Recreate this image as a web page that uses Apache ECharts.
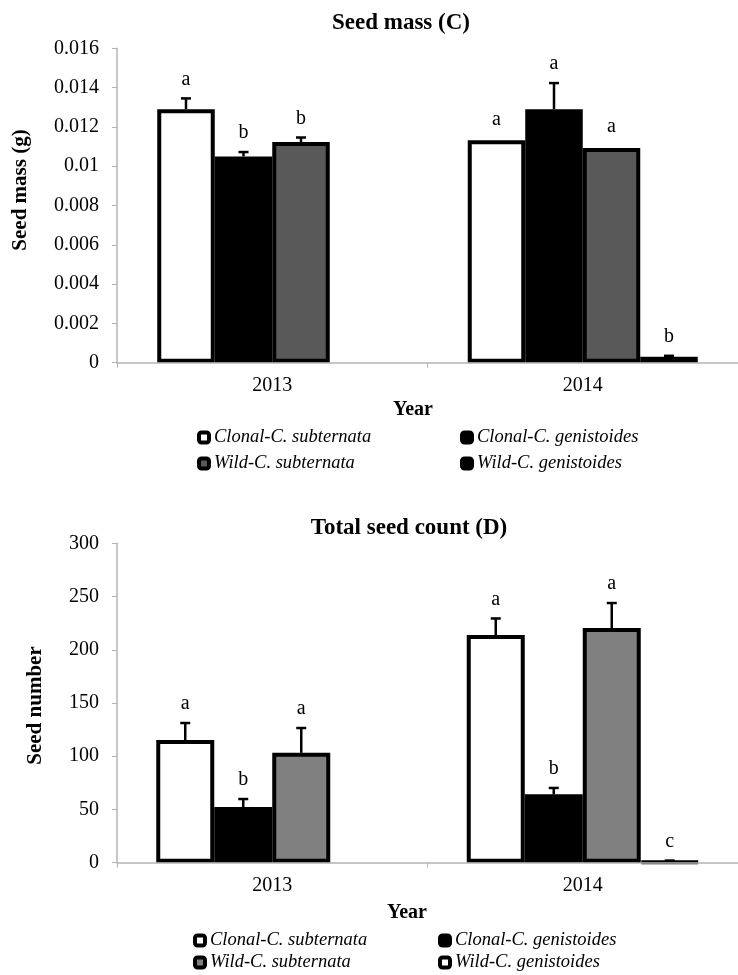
<!DOCTYPE html>
<html><head><meta charset="utf-8">
<script src="https://cdn.jsdelivr.net/npm/echarts@6/dist/echarts.min.js"></script>
<style>html,body{margin:0;padding:0;background:#fff}#c{width:738px;height:975px}</style>
</head><body><div id="c"></div>
<script>
// ---------- data ----------
const years = ['2013', '2014'];
const seriesNames = ['Clonal-C. subternata', 'Clonal-C. genistoides', 'Wild-C. subternata', 'Wild-C. genistoides'];

// Panel C: seed mass (g)
const massClonalSub = [0.0129, 0.01132];
const massClonalGen = [0.0105, 0.0129];
const massWildSub   = [0.01123, 0.01093];
const massWildGen   = [null, 0.0003];
const massErrClonalSub = [0.00055, 0];
const massErrClonalGen = [0.00022, 0.00133];
const massErrWildSub   = [0.00023, 0];
const massErrWildGen   = [null, 0.00005];
const massLetClonalSub = ['a', 'a'];
const massLetClonalGen = ['b', 'a'];
const massLetWildSub   = ['b', 'a'];
const massLetWildGen   = ['', 'b'];
const massAxisMax = 0.016, massAxisStep = 0.002;

// Panel D: total seed count
const countClonalSub = [115.2, 213.9];
const countClonalGen = [52.3, 64.2];
const countWildSub   = [103.2, 220.4];
const countWildGen   = [null, 1];
const countErrClonalSub = [16, 15.5];
const countErrClonalGen = [7.5, 6];
const countErrWildSub   = [23.3, 23.5];
const countErrWildGen   = [null, 1];
const countLetClonalSub = ['a', 'a'];
const countLetClonalGen = ['b', 'b'];
const countLetWildSub   = ['a', 'a'];
const countLetWildGen   = ['', 'c'];
const countAxisMax = 300, countAxisStep = 50;

// ---------- styles ----------
const FONT = "'Liberation Serif','Times New Roman',serif";
const AXIS_GREY = '#b4b4b4';
const fillsC = ['#ffffff', '#000000', '#595959', '#000000'];
const fillsD = ['#ffffff', '#000000', '#808080', '#ffffff'];

function panel(gi, values, errs, letters, fills, barW) {
  const out = [];
  values.forEach((vals, i) => {
    out.push({
      type: 'bar', name: seriesNames[i], xAxisIndex: gi, yAxisIndex: gi,
      data: vals, barWidth: barW, barGap: '0%', z: 2,
      itemStyle: { color: fills[i], borderColor: '#000', borderWidth: 4 },
      emphasis: { disabled: true }, animation: false
    });
  });
  const rows = [];
  values.forEach((vals, i) => vals.forEach((v, j) => {
    if (v !== null) rows.push([j, v, errs[i][j], i]);
  }));
  out.push({
    type: 'custom', xAxisIndex: gi, yAxisIndex: gi, z: 4, clip: false,
    encode: { x: 0, y: 1 }, data: rows, animation: false, silent: true,
    renderItem: function (params, api) {
      const j = api.value(0), v = api.value(1), e = api.value(2), i = api.value(3);
      const c = api.coord([j, 0]);
      const x = c[0] + (i - 1.5) * barW;
      const yV = api.coord([j, v])[1];
      const yT = api.coord([j, v + e])[1];
      const ch = [];
      let top = yV - 2;
      if (e > 0) {
        top = yT;
        ch.push({ type: 'line', shape: { x1: x, y1: yV, x2: x, y2: yT }, style: { stroke: '#000', lineWidth: 2.5 } });
        ch.push({ type: 'line', shape: { x1: x - 5, y1: yT, x2: x + 5, y2: yT }, style: { stroke: '#000', lineWidth: 2.5 } });
      }
      const L = letters[i][j];
      if (L) ch.push({ type: 'text', style: { text: L, x: x, y: top - 9, align: 'center', verticalAlign: 'bottom', font: '20px ' + FONT, fill: '#000' } });
      return { type: 'group', children: ch };
    }
  });
  return out;
}

function legendItems(fills, left1, left2, top1, top2) {
  const pos = [[left1, top1], [left2, top1], [left1, top2], [left2, top2]];
  return seriesNames.map((n, i) => ({
    left: pos[i][0], top: pos[i][1], padding: 0, itemWidth: 10, itemHeight: 10,
    selectedMode: false,
    textStyle: { fontFamily: FONT, fontStyle: 'italic', fontSize: 18.5, color: '#000' },
    data: [{ name: n, icon: 'roundRect', itemStyle: { color: fills[i], borderColor: '#000', borderWidth: 4 } }]
  }));
}

function xAx(gi) {
  return {
    type: 'category', gridIndex: gi, data: years, z: 3,
    axisLine: { lineStyle: { color: AXIS_GREY, width: 1.5 } },
    axisTick: { show: true, length: 5, lineStyle: { color: AXIS_GREY } },
    axisLabel: { fontFamily: FONT, fontSize: 20, color: '#000', margin: 13 },
    splitLine: { show: false }
  };
}
function yAx(gi, max, step, fmt) {
  return {
    type: 'value', gridIndex: gi, min: 0, max: max, interval: step,
    axisLine: { show: true, lineStyle: { color: AXIS_GREY, width: 1.5 } },
    axisTick: { show: true, length: 5, lineStyle: { color: AXIS_GREY } },
    axisLabel: { fontFamily: FONT, fontSize: 20, color: '#000', margin: 18, formatter: fmt },
    splitLine: { show: false }
  };
}

const chart = echarts.init(document.getElementById('c'), null, { renderer: 'canvas' });
chart.setOption({
  backgroundColor: '#fff',
  animation: false,
  grid: [
    { left: 117, top: 48.3, width: 626, height: 314.4 },
    { left: 117, top: 543.3, width: 632, height: 319.4 }
  ],
  xAxis: [xAx(0), xAx(1)],
  yAxis: [
    yAx(0, massAxisMax, massAxisStep, v => String(+v.toFixed(3))),
    yAx(1, countAxisMax, countAxisStep, v => String(v))
  ],
  legend: legendItems(fillsC, 197, 460, 428, 454).concat(legendItems(fillsD, 193, 438, 931, 953)),
  series: [].concat(
    panel(0, [massClonalSub, massClonalGen, massWildSub, massWildGen],
      [massErrClonalSub, massErrClonalGen, massErrWildSub, massErrWildGen],
      [massLetClonalSub, massLetClonalGen, massLetWildSub, massLetWildGen], fillsC, 57.5),
    panel(1, [countClonalSub, countClonalGen, countWildSub, countWildGen],
      [countErrClonalSub, countErrClonalGen, countErrWildSub, countErrWildGen],
      [countLetClonalSub, countLetClonalGen, countLetWildSub, countLetWildGen], fillsD, 58)
  ),
  graphic: [
    { type: 'text', x: 401, y: 23, style: { text: 'Seed mass (C)', font: 'bold 23px ' + FONT, fill: '#000', align: 'center', verticalAlign: 'middle' } },
    { type: 'text', x: 21, y: 190, rotation: Math.PI / 2, style: { text: 'Seed mass (g)', font: 'bold 21px ' + FONT, fill: '#000', align: 'center', verticalAlign: 'middle' } },
    { type: 'text', x: 413, y: 410, style: { text: 'Year', font: 'bold 20px ' + FONT, fill: '#000', align: 'center', verticalAlign: 'middle' } },
    { type: 'text', x: 409, y: 528, style: { text: 'Total seed count (D)', font: 'bold 23px ' + FONT, fill: '#000', align: 'center', verticalAlign: 'middle' } },
    { type: 'text', x: 35.5, y: 705.5, rotation: Math.PI / 2, style: { text: 'Seed number', font: 'bold 21px ' + FONT, fill: '#000', align: 'center', verticalAlign: 'middle' } },
    { type: 'text', x: 407, y: 913, style: { text: 'Year', font: 'bold 20px ' + FONT, fill: '#000', align: 'center', verticalAlign: 'middle' } }
  ]
});
</script>
</body></html>
